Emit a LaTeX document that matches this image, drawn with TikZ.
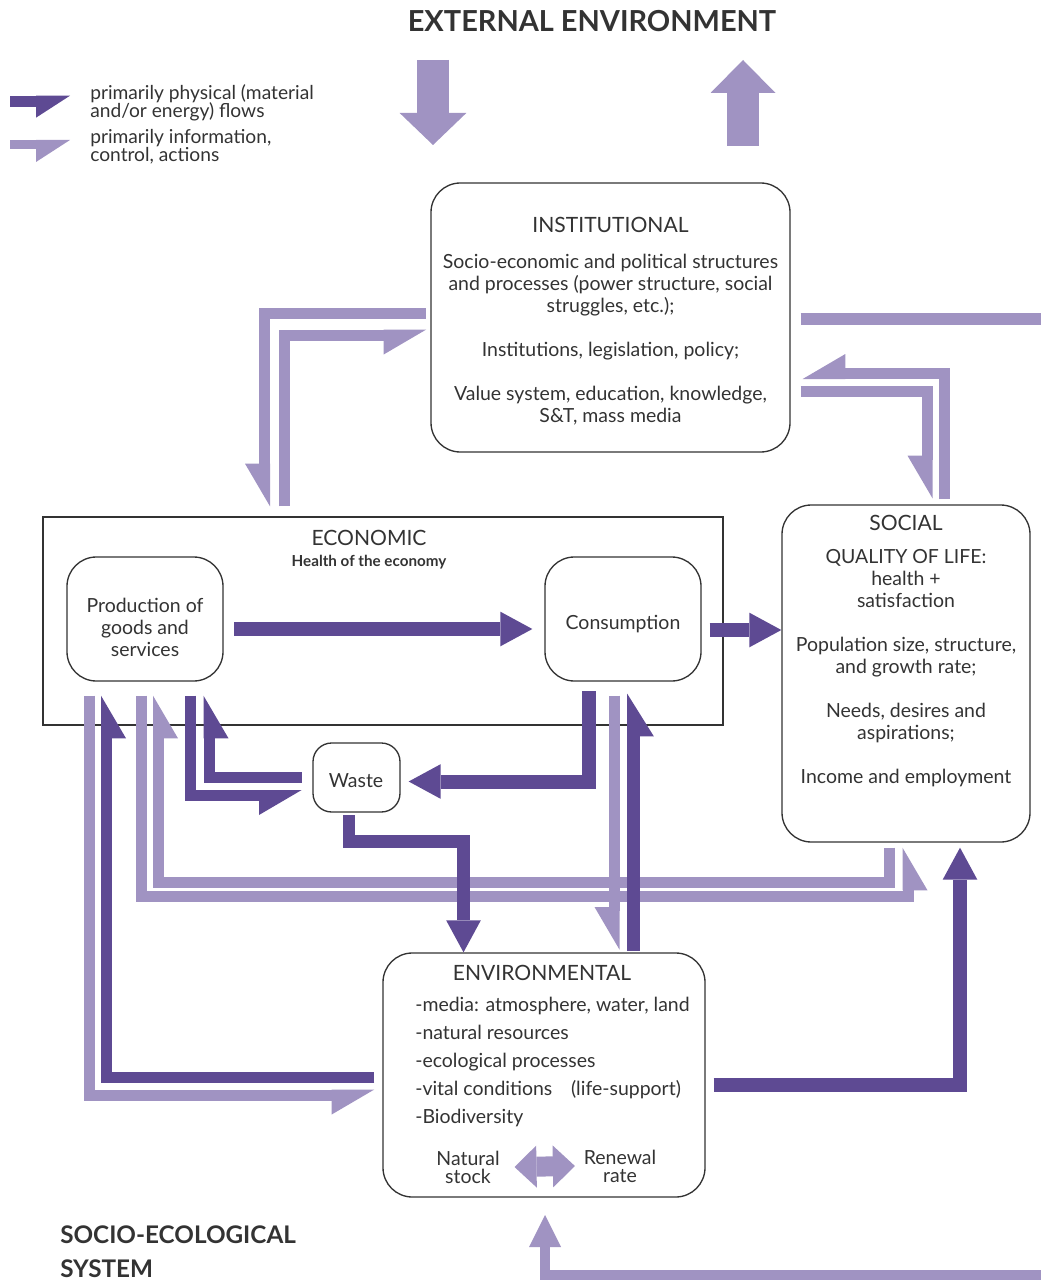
\documentclass[tikz,border=0pt]{standalone}
\usepackage{fontspec}
\setmainfont{Lato}
\usetikzlibrary{arrows.meta,positioning}

\definecolor{physcol}{HTML}{5E4A93}
\definecolor{infocol}{HTML}{A093C2}
\definecolor{inkcol}{HTML}{333333}

\newcommand\tightlines{\lineskiplimit=-20pt\relax}

% half arrow head: flat edge on the left side, barb on the right side
\pgfdeclarearrow{
  name = Half,
  parameters = {\the\pgfarrowlength,\the\pgfarrowwidth,\the\pgflinewidth},
  setup code = {
    \pgfarrowssettipend{0pt}
    \pgfarrowssetlineend{-.9\pgfarrowlength}
    \pgfarrowssetbackend{-\pgfarrowlength}
    \pgfarrowssetvisualbackend{-\pgfarrowlength}
    \pgfarrowssavethe\pgfarrowlength
    \pgfarrowssavethe\pgfarrowwidth
    \pgfarrowssavethe\pgflinewidth
  },
  drawing code = {
    \pgfpathmoveto{\pgfpoint{0pt}{.5\pgflinewidth}}
    \pgfpathlineto{\pgfpoint{-\pgfarrowlength}{.5\pgflinewidth}}
    \pgfpathlineto{\pgfpoint{-\pgfarrowlength}{-.5\pgflinewidth-\pgfarrowwidth}}
    \pgfpathclose
    \pgfusepathqfill
  },
  defaults = {length=32pt, width=10.5pt}
}

\tikzset{
  box/.style={draw=inkcol, line width=1pt, rounded corners=22pt, inner sep=0pt},
  txt/.style={text=inkcol, align=center, inner sep=0pt, font=\fontsize{14.6}{16.5}\selectfont},
  phys/.style={physcol, line width=8.25pt, -{Half[length=32pt,width=10.5pt]}},
  info/.style={infocol, line width=8.25pt, -{Half[length=32pt,width=10.5pt]}},
  bigphys/.style={physcol, line width=10.5pt, -{Triangle[length=24pt,width=26pt,line width=0pt]}},
  biginfo/.style={infocol, line width=7.5pt, -{Triangle[length=24pt,width=24pt,line width=0pt]}},
}

\begin{document}
\begin{tikzpicture}[x=0.75pt,y=-0.75pt]
\useasboundingbox (0,0) rectangle (1041,1280);

% titles
\node[txt, anchor=base, font=\bfseries\fontsize{21.7}{22}\selectfont] (ext) at (592,31.5) {EXTERNAL ENVIRONMENT};
\node[txt, anchor=north west, align=left, font=\bfseries\fontsize{18.2}{25.5}\selectfont] (ses) at (60,1225) {SOCIO-ECOLOGICAL\\SYSTEM};

% legend
\node[txt, anchor=west, align=left, font=\fontsize{14.4}{13.6}\selectfont\tightlines] (legphys) at (90,103) {primarily physical (material\\and/or energy) flows};
\node[txt, anchor=west, align=left, font=\fontsize{14.4}{13.6}\selectfont\tightlines] (leginfo) at (90,147) {primarily information,\\control, actions};
\draw[phys, -{Half[length=25.5pt,width=8.25pt]}] (10,101.2) -- (70,101.2);
\draw[info, line width=6.75pt, -{Half[length=25.5pt,width=9.75pt]}] (10,144.5) -- (70,144.5);

% boxes
\node[box, minimum width=269.25pt, minimum height=201.75pt] (inst) at (610.5,317.5) {};
\node[box, rounded corners=0pt, minimum width=510pt, minimum height=156pt] (econ) at (383,621) {};
\node[box, minimum width=117pt, minimum height=93pt] (prod) at (145,619) {};
\node[box, minimum width=117pt, minimum height=93pt] (cons) at (623,619) {};
\node[box, rounded corners=14pt, minimum width=65.25pt, minimum height=51.75pt] (waste) at (356.5,777.5) {};
\node[box, minimum width=186pt, minimum height=252.75pt] (social) at (906,673.5) {};
\node[box, minimum width=241.5pt, minimum height=183pt] (env) at (544,1075) {};

% texts of the boxes
\node[txt] (insttxt) at (610.5,321) {{\fontsize{15.8}{16.5}\selectfont INSTITUTIONAL}\\[10.5pt]
  Socio-economic and political structures\\and processes (power structure, social\\struggles, etc.);\\[16.5pt]
  Institutions, legislation, policy;\\[16.5pt]
  Value system, education, knowledge,\\S\&T, mass media};
\node[txt, font=\fontsize{15.8}{16}\selectfont] (econtxt) at (369,538) {ECONOMIC};
\node[txt, below=6.5pt of econtxt, font=\bfseries\fontsize{11.4}{12}\selectfont] (health) {Health of the economy};
\node[txt] (prodtxt) at (145,627) {Production of\\goods and\\services};
\node[txt] (constxt) at (623,624) {Consumption};
\node[txt] (wastetxt) at (356,781) {Waste};
\node[txt] (socialtxt) at (906,651) {{\fontsize{15.8}{16.5}\selectfont SOCIAL}\\[8.25pt]
  QUALITY OF LIFE:\\health +\\satisfaction\\[16.5pt]
  Population size, structure,\\and growth rate;\\[16.5pt]
  Needs, desires and\\aspirations;\\[16.5pt]
  Income and employment};
\node[txt, font=\fontsize{15.8}{16}\selectfont] (envtxt) at (542,973) {ENVIRONMENTAL};
\node[txt, anchor=west, align=left, font=\fontsize{14.6}{21}\selectfont] (envlist) at (415,1062) {-media: atmosphere, water, land\\-natural resources\\-ecological processes\\-vital conditions\hspace{14pt}(life-support)\\-Biodiversity};
\node[txt, inner xsep=11pt, font=\fontsize{14.6}{13.5}\selectfont\tightlines] (natural) at (468,1167) {Natural\\stock};
\node[txt, inner xsep=6.5pt, font=\fontsize{14.6}{13.5}\selectfont\tightlines] (renewal) at (620,1166) {Renewal\\rate};

% exchanges with the outside
\draw[infocol, line width=24pt, -{Triangle[length=24pt,width=50pt,line width=0pt]}] (433,60) -- (433,145);
\draw[infocol, line width=24pt, -{Triangle[length=24.75pt,width=48.75pt,line width=0pt]}] (743,146) -- (743,60);
\draw[info, -, line width=9pt] ([xshift=7.5pt]inst.east |- 0,319) -- (1041,319);
\draw[biginfo] (1041,1274.5) -| ([yshift=-13pt]env.south -| 545,0);

% information flows
\draw[info] ([xshift=-3.5pt]inst.west |- 0,313) -| ([yshift=7.5pt]econ.north -| 264.5,0);
\draw[info] ([yshift=7.5pt]econ.north -| 284.5,0) |- ([xshift=-3pt]inst.west |- 0,335);
\draw[info] ([yshift=3.75pt]social.north -| 944,0) |- ([xshift=9pt]inst.east |- 0,373.5);
\draw[info] ([xshift=7.5pt]inst.east |- 0,391) -| ([yshift=4.5pt]social.north -| 927,0);
\draw[info] ([yshift=-10.5pt]prod.south -| 89,0) |- ([xshift=-6pt]env.west |- 0,1095);
\draw[info] ([yshift=-10.5pt]prod.south -| 141.5,0) |- (908,896.5) -- ([yshift=-3.75pt]social.south -| 908,0);
\draw[info] ([yshift=-3.75pt]social.south -| 889,0) |- (158.5,882) -- ([yshift=-10.5pt]prod.south -| 158.5,0);
\draw[info] ([yshift=-10.5pt]cons.south -| 614,0) -- ([yshift=2pt]env.north -| 614,0);
\draw[infocol, line width=15pt, {Triangle[length=16.5pt,width=31.5pt,line width=0pt]}-{Triangle[length=16.5pt,width=31.5pt,line width=0pt]}] (natural.east) -- (renewal.west);

% physical flows
\draw[bigphys] ([xshift=8pt]prod.east |- 0,629) -- ([xshift=-9pt]cons.west |- 0,629);
\draw[bigphys] ([xshift=6pt]cons.east |- 0,630) -- (social.west |- 0,630);
\draw[bigphys] ([yshift=-7pt]cons.south -| 589,0) |- ([xshift=6pt]waste.east |- 0,781.5);
\draw[phys] ([xshift=-8pt]waste.west |- 0,777.5) -| ([yshift=-10.5pt]prod.south -| 209,0);
\draw[phys] ([yshift=-10.5pt]prod.south -| 190,0) |- ([xshift=-8pt]waste.west |- 0,795.5);
\draw[bigphys, line width=9.5pt] ([yshift=-2pt]waste.south -| 349,0) |- (463.5,841.5) -- (env.north -| 463.5,0);
\draw[phys] ([xshift=-6pt]env.west |- 0,1077.5) -| ([yshift=-10.5pt]prod.south -| 106.5,0);
\draw[phys, line width=9.5pt] ([yshift=1pt]env.north -| 633.5,0) -- ([yshift=-9pt]cons.south -| 633.5,0);
\draw[bigphys] ([xshift=6pt]env.east |- 0,1084.5) -| ([yshift=-3.75pt]social.south -| 960,0);
\end{tikzpicture}
\end{document}
